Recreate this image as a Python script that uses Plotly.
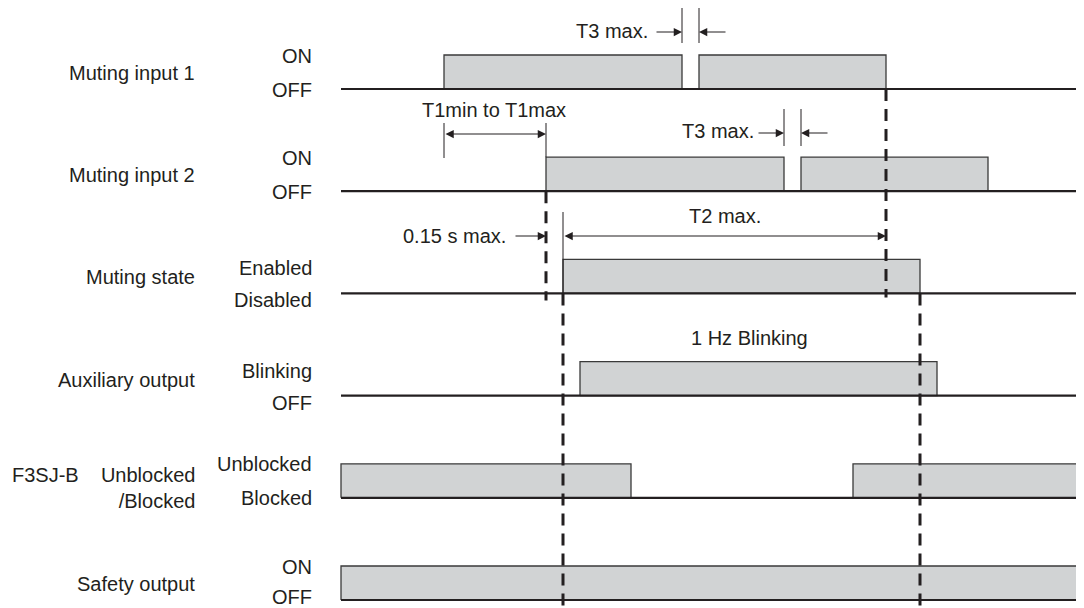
import plotly.graph_objects as go

# time axis (drawing units, left edge of traces to right edge of page)
t_start = 341
t_end = 1095

signal_names = [
    "Muting input 1",
    "Muting input 2",
    "Muting state",
    "Auxiliary output",
    "F3SJ-B\u00a0\u00a0\u00a0\u00a0Unblocked<br>/Blocked",
    "Safety output",
]
high_labels = ["ON", "ON", "Enabled", "Blinking", "Unblocked", "ON"]
low_labels = ["OFF", "OFF", "Disabled", "OFF", "Blocked", "OFF"]

# high intervals [start, end] of each signal
mute1_on = [[444, 682], [699, 886]]
mute2_on = [[546, 784], [801, 988]]
muting_state_on = [[563, 920]]
aux_on = [[580, 937]]
f3sj_unblocked = [[341, 631], [853, 1095]]
safety_on = [[341, 1095]]

signals = [mute1_on, mute2_on, muting_state_on, aux_on, f3sj_unblocked, safety_on]

# layout of the rows (page pixels)
row0 = 89
pitch = 102.2
level_h = 34
hi_off = [-33, -33, -25, -25, -34, -33]
lo_off = [1, 1, 7, 7, 0, -3]

# the page body has an 8px margin; shift ranges so data units == page pixels
PAD = 8

INK = "#231f20"
FILL = "#d1d3d4"
FONT = dict(family="Liberation Sans, Arial, sans-serif", size=20, color=INK)

fig = go.Figure()

bases = [row0 + pitch * i for i in range(len(signals))]

for base, pulses in zip(bases, signals):
    for a, b in pulses:
        fig.add_trace(go.Scatter(
            x=[a, a, b, b, a], y=[base, base - level_h, base - level_h, base, base],
            mode="lines", fill="toself", fillcolor=FILL,
            line=dict(color="#3a3a3a", width=1.3),
            hoverinfo="skip", showlegend=False,
        ))
    fig.add_trace(go.Scatter(
        x=[t_start, t_end], y=[base, base], mode="lines",
        line=dict(color=INK, width=2.2), hoverinfo="skip", showlegend=False,
    ))

# timing edges (dashed)
edges = [
    (mute2_on[0][0], bases[1], bases[2] + 7),
    (mute1_on[1][1], bases[0], bases[2] + 4),
    (muting_state_on[0][0], bases[2], 612),
    (muting_state_on[0][1], bases[2], 612),
]
for x, y0, y1 in edges:
    fig.add_shape(type="line", x0=x, x1=x, y0=y0, y1=y1, xref="x", yref="y",
                  line=dict(color=INK, width=3, dash="12px,8px"))


def ext(x, y0, y1):
    fig.add_shape(type="line", x0=x, x1=x, y0=y0, y1=y1, xref="x", yref="y",
                  line=dict(color=INK, width=1))


def arrow(x_tip, x_tail, y, both=False):
    fig.add_annotation(
        x=x_tip, y=y, ax=x_tail, ay=y, xref="x", yref="y", axref="x", ayref="y",
        text="", showarrow=True, arrowhead=2, arrowsize=1.5, arrowwidth=1.1,
        arrowcolor=INK, arrowside="end+start" if both else "end",
        startarrowhead=2, startarrowsize=1.5,
    )


def label(text, x, y, anchor="center"):
    fig.add_annotation(x=x, y=y, xref="x", yref="y", text=text, showarrow=False,
                       xanchor=anchor, yanchor="middle", align=anchor if anchor != "center" else "center",
                       font=FONT)


# T3 on muting input 1
g0, g1 = mute1_on[0][1], mute1_on[1][0]
ext(g0, 7, 43)
ext(g1, 7, 43)
arrow(g0, g0 - 27, 32)
arrow(g1, g1 + 28, 32)
label("T3 max.", g0 - 32, 31, "right")

# T1 between the two inputs
a0, a1 = mute1_on[0][0], mute2_on[0][0]
ext(a0, 123, 158)
ext(a1, 123, bases[1] - level_h)
arrow(a1, a0, 134, both=True)
label("T1min to T1max", (a0 + a1) / 2 - 1, 110)

# T3 on muting input 2
g0, g1 = mute2_on[0][1], mute2_on[1][0]
ext(g0, 109, 146)
ext(g1, 109, 146)
arrow(g0, g0 - 27, 133)
arrow(g1, g1 + 28, 133)
label("T3 max.", g0 - 28, 131, "right")

# 0.15 s max. and T2 max.
s0, s1 = muting_state_on[0][0], mute1_on[1][1]
ext(s0, 212, bases[2])
arrow(mute2_on[0][0], mute2_on[0][0] - 32, 236)
label("0.15 s max.", mute2_on[0][0] - 38, 236, "right")
arrow(s1, s0, 236, both=True)
label("T2 max.", (s0 + s1) / 2, 216)

label("1 Hz Blinking", 749, 338)

# row labels
for base, name, hi, lo, dh, dl in zip(bases, signal_names, high_labels, low_labels, hi_off, lo_off):
    label(name, 197, base - (10 if "<br>" in name else 16), "right")
    label(hi, 314, base + dh, "right")
    label(lo, 314, base + dl, "right")

fig.update_layout(
    width=1084, height=608,
    margin=dict(l=0, r=0, t=0, b=0),
    paper_bgcolor="white", plot_bgcolor="white",
    xaxis=dict(range=[PAD, 1084 + PAD], visible=False, fixedrange=True),
    yaxis=dict(range=[608 + PAD, PAD], visible=False, fixedrange=True),
    showlegend=False,
)

fig.write_html("out.html")
